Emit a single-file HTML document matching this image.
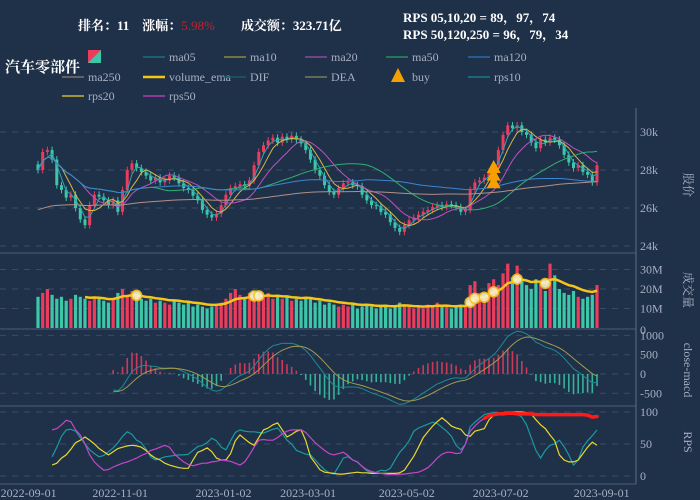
<!DOCTYPE html>
<html><head><meta charset="utf-8">
<style>
html,body{margin:0;padding:0;background:#1f3049;}
#wrap{position:relative;width:700px;height:500px;overflow:hidden;background:#1f3049;font-family:"Liberation Serif","Noto Serif CJK SC",serif;}
svg text{font-family:"Liberation Serif","Noto Serif CJK SC",serif;}
</style></head>
<body>
<div id="wrap">
<svg id="chart" width="700" height="500" xmlns="http://www.w3.org/2000/svg">
  <g>
    <text x="78" y="30" fill="#ffffff" font-size="13" font-weight="bold">排名：11　涨幅：<tspan fill="#c0242c" font-weight="normal">5.98%</tspan>　　成交额：323.71亿</text>
    <text x="403" y="22" fill="#ffffff" font-size="13" font-weight="bold">RPS 05,10,20 = 89，97，74</text>
    <text x="403" y="39" fill="#ffffff" font-size="13" font-weight="bold">RPS 50,120,250 = 96，79，34</text>
    <text x="5" y="72" fill="#ffffff" font-size="15" font-weight="bold" font-family="Liberation Sans, Noto Sans CJK SC, sans-serif">汽车零部件</text>
  </g>
  <g id="legend"></g>
  <g id="grid"></g>
  <g id="price"></g>
  <g id="volume"></g>
  <g id="macd"></g>
  <g id="rps"></g>
  <g id="axes"></g>
</svg>
</div>
<script>
const closes=[28000,28950,29050,28550,27200,26950,26550,26700,26000,25400,25100,26150,26700,26600,26400,26150,26400,25800,26950,28000,28350,28100,27900,27700,27450,27600,27350,27450,27700,27600,27300,27050,26950,26650,26400,25900,25650,25500,25700,26150,26700,27050,27150,27250,27150,27450,28250,28950,29300,29550,29700,29450,29750,29600,29800,29600,29400,29050,28550,28000,27700,27200,26850,26700,27050,27300,27350,27200,27150,26700,26400,26150,26100,25800,25650,25250,24950,24750,25100,25350,25500,25650,25800,25900,26050,26150,26050,26200,26150,26050,25800,25900,26950,27350,27450,27600,27900,28250,29050,29850,30350,30200,30350,30000,29850,29450,29150,29600,29450,29700,29600,29300,28800,28400,28100,28250,27900,27750,27350,28250];
const historyCloses=[25200,25400,25600,25900,26200,26400,26100,25800,25500,25300,25600,25900,26200,26400,26300,26000,25700,25500,25400,25600,25900,26100,26300,26200,25900,25700,25600,25800,26000,26200,26100,25900,25700,25600,25800,26000,26100,25900,25800,25700];
const volumes=[16,18,20,17,15,16,14,15,17,16,15,14,16,15,14,13,15,18,20,17,19,16,15,14,15,13,14,13,12,14,13,12,13,11,12,11,10,11,12,13,15,18,20,17,16,18,19,17,16,18,15,17,15,16,14,15,14,16,15,13,14,12,13,12,11,12,11,12,10,11,12,11,10,11,12,10,11,13,12,11,10,11,10,12,11,13,11,12,10,11,12,11,22,24,18,16,23,25,22,28,33,26,32,24,22,20,25,23,19,33,27,20,18,17,19,16,15,16,17,22];
const rps10=[null,null,null,30,45,62,72,73,70,60,50,41,35,30,32,38,44,52,62,69,65,56,52,42,30,25,27,30,31,32,33,33,34,40,46,48,52,59,55,45,41,55,68,72,70,69,69,68,67,70,73,75,66,56,50,40,37,34,33,25,17,10,5,3,15,28,30,25,22,15,8,5,6,9,8,12,25,37,45,55,70,75,78,81,84,82,76,70,62,48,41,50,77,84,90,96,98,99,99,98,98,99,97,92,80,60,40,28,40,48,50,56,46,33,17,25,45,55,63,72];
const rps20=[null,null,null,17,20,28,33,42,52,56,61,56,50,43,38,33,38,43,45,47,48,47,45,40,33,28,25,20,17,15,13,12,12,25,37,40,44,38,28,25,25,35,55,64,58,52,48,60,72,75,80,83,72,61,65,70,72,55,30,20,10,6,5,4,3,3,4,5,6,5,5,4,4,4,4,4,4,5,9,20,31,45,60,69,78,85,91,85,78,75,73,64,62,70,72,74,88,95,98,99,100,100,100,100,99,97,88,80,74,64,55,33,25,22,22,25,35,45,53,48];
const rps50=[null,null,null,72,74,80,87,85,72,64,50,33,22,15,9,10,14,17,20,22,25,28,32,35,40,42,45,48,45,35,28,22,18,16,18,20,20,22,23,25,24,23,20,17,22,33,45,56,57,56,56,60,66,70,72,72,72,68,60,52,46,40,35,33,35,37,32,25,22,15,10,7,5,4,3,2,2,3,3,4,5,6,9,13,20,28,34,37,37,35,36,50,70,78,85,90,94,96,97,97,98,98,97,97,97,97,96,96,96,96,96,96,96,96,96,96,96,95,92,93];
const buyIdx=[97,97,97];
const buyPrice=[28050,27650,27250];
const glowIdx=[21,46,47,92,93,95,97,102,108];
const priceTicks=[24000,26000,28000,30000];
const priceTickLabels=["24k","26k","28k","30k"];
const volTicks=[0,10,20,30];
const volTickLabels=["0","10M","20M","30M"];
const macdTicks=[-500,0,500,1000];
const rpsTicks=[0,50,100];
const dateLabels=["2022-09-01","2022-11-01","2023-01-02","2023-03-01","2023-05-02","2023-07-02","2023-09-01"];
const datePos=[-2,17.5,39.5,57.5,78.5,98.5,120];

const NS="http://www.w3.org/2000/svg";
const X0=38, X1=597;
function xs(i){return X0+i*(X1-X0)/(closes.length-1);}
function yPrice(p){return 170-(p-28000)*0.019;}
function yVol(v){return 328-v*1.95;}
function yMacd(m){return 374-m*0.0386;}
function yRps(r){return 476-r*0.64;}
function el(tag,attrs,parent){const e=document.createElementNS(NS,tag);for(const k in attrs)e.setAttribute(k,attrs[k]);parent.appendChild(e);return e;}
const UP="#ec3c5c", DN="#3cc8a8";

const grid=document.getElementById('grid');
function gline(y){const l=el('line',{x1:0,x2:636,y1:y,y2:y,stroke:'#3b4b66','stroke-dasharray':'6,6','stroke-width':1},grid);

}
priceTicks.forEach(t=>gline(yPrice(t)));
volTicks.slice(1).forEach(t=>gline(yVol(t)));
macdTicks.forEach(t=>gline(yMacd(t)));
rpsTicks.forEach(t=>gline(yRps(t)));
[253,329,406,484].forEach(y=>{const l=el('line',{x1:0,x2:636,y1:y,y2:y,stroke:'#4a5b78','stroke-width':1},grid);

});

function ma(arr,n){return arr.map((v,i)=>{const s=Math.max(0,i-n+1);let t=0;for(let j=s;j<=i;j++)t+=arr[j];return t/(i-s+1);});}
function ema(arr,n){const k=2/(n+1);let out=[],prev=arr[0];arr.forEach((v,i)=>{prev=i?v*k+prev*(1-k):v;out.push(prev);});return out;}
function pathFrom(vals,xf,yf,start){let d='';vals.forEach((v,i)=>{if(i<(start||0)||v==null)return;d+=(d?'L':'M')+xf(i).toFixed(1)+','+yf(v).toFixed(1);});return d;}

const price=document.getElementById('price');
closes.forEach((c,i)=>{
  const o=i?closes[i-1]:c+300;
  const up=c>=o;
  const hi=Math.max(o,c)+180, lo=Math.min(o,c)-180;
  const w=el('line',{x1:xs(i),x2:xs(i),y1:yPrice(hi),y2:yPrice(lo),stroke:up?UP:DN,'stroke-width':1},price);
  
  
  const top=yPrice(Math.max(o,c)), bot=yPrice(Math.min(o,c));
  const r=el('rect',{x:xs(i)-1.5,y:top,width:3,height:Math.max(1,bot-top),fill:up?UP:DN},price);
  
  
});
const fullSeries=historyCloses.concat(closes);
const ma250=ma(fullSeries,125).slice(historyCloses.length);
const maDefs=[[3,'#2aa4b0','ma05'],[5,'#d6b848','ma10'],[10,'#c050c0','ma20'],[25,'#30b070','ma50'],[60,'#3a86d0','ma120']];
maDefs.forEach(([n,col,name])=>{
  const p=el('path',{d:pathFrom(ma(closes,n),xs,yPrice),fill:'none',stroke:col,'stroke-width':1},price);
  
  
});
const p250=el('path',{d:pathFrom(ma250,xs,yPrice),fill:'none',stroke:'#b09088','stroke-width':1},price);


buyIdx.forEach((b,k)=>{
  const x=xs(b), y=yPrice(buyPrice[k]);
  const t=el('polygon',{points:`${x},${y-9} ${x-7},${y+4} ${x+7},${y+4}`,fill:'#f5a000'},price);
  
  
});

const vol=document.getElementById('volume');
volumes.forEach((v,i)=>{
  const o=i?closes[i-1]:closes[i]+300;
  const up=closes[i]>=o;
  const r=el('rect',{x:xs(i)-1.6,y:yVol(v),width:3.2,height:328-yVol(v),fill:up?UP:DN},vol);
  
  
});
const vema=ema(volumes,10);
const vp=el('path',{d:pathFrom(vema,xs,yVol,10),fill:'none',stroke:'#f5c518','stroke-width':2.5},vol);


glowIdx.forEach(g=>{
  const c=el('circle',{cx:xs(g),cy:yVol(vema[g]),r:5,fill:'#f8f0c8',stroke:'#f5c518','stroke-width':1.5,opacity:0.9},vol);
  
  
});

const macdG=document.getElementById('macd');
const e6=ema(closes,9), e13=ema(closes,20);
const dif=e6.map((v,i)=>v-e13[i]);
const dea=ema(dif,6);
const START=16;
dif.forEach((d,i)=>{
  if(i<START)return;
  const h=2*(d-dea[i]);
  const y0=yMacd(0), y1=yMacd(h);
  const b=el('rect',{x:xs(i)-0.8,y:Math.min(y0,y1),width:1.6,height:Math.max(0.5,Math.abs(y1-y0)),fill:h>=0?UP:DN,opacity:0.85},macdG);
  
  
});
const dl=el('path',{d:pathFrom(dif,xs,yMacd,START),fill:'none',stroke:'#1d8a96','stroke-width':1},macdG);


const de=el('path',{d:pathFrom(dea,xs,yMacd,START),fill:'none',stroke:'#a09a50','stroke-width':1},macdG);



const rpsG=document.getElementById('rps');
[[rps10,'#1a9aa0','rps10'],[rps20,'#e8d830','rps20'],[rps50,'#c846c8','rps50']].forEach(([a,c,n])=>{
  const p=el('path',{d:pathFrom(a,xs,yRps),fill:'none',stroke:c,'stroke-width':1.2},rpsG);
  
  
});
let rd='';rps50.forEach((v,i)=>{if(v!=null&&v>=90){rd+=(rd&&rps50[i-1]>=90?'L':'M')+xs(i).toFixed(1)+','+yRps(v).toFixed(1);}});
const rl=el('path',{d:rd,fill:'none',stroke:'#ff1a1a','stroke-width':3.5,'stroke-linecap':'round'},rpsG);



const ax=document.getElementById('axes');
const av=el('line',{x1:636,x2:636,y1:108,y2:484,stroke:'#5a6b88','stroke-width':1},ax);


function alabel(y,txt,name){const t=el('text',{x:640,y:y+4,fill:'#a8b0c0','font-size':12},ax);t.textContent=txt;

}
priceTicks.forEach((t,k)=>alabel(yPrice(t),priceTickLabels[k],'price-tick-label'));
volTicks.forEach((t,k)=>alabel(yVol(t)+ (t===0?2:0),volTickLabels[k],'volume-tick-label'));
macdTicks.forEach(t=>alabel(yMacd(t),String(t),'macd-tick-label'));
rpsTicks.forEach(t=>alabel(yRps(t),String(t),'rps-tick-label'));
function vtitle(y,txt,name){const t=el('text',{x:0,y:0,fill:'#a8b0c0','font-size':12,'text-anchor':'middle',transform:`translate(684,${y}) rotate(90)`},ax);t.textContent=txt;

}
vtitle(185,'股价','price-axis-title');vtitle(290,'成交量','volume-axis-title');vtitle(370,'close-macd','macd-axis-title');vtitle(442,'RPS','rps-axis-title');
dateLabels.forEach((d,k)=>{const t=el('text',{x:xs(datePos[k]),y:497,fill:'#a8b0c0','font-size':12,'text-anchor':'middle'},ax);t.textContent=d;

});

const lg=document.getElementById('legend');
const legendItems=[
 [143,57,'line','#1d6f7a','ma05'],[224,57,'line','#8a8a3a','ma10'],[305,57,'line','#8a4a9a','ma20'],[386,57,'line','#2a8a5a','ma50'],[468,57,'line','#2a6aaa','ma120'],
 [62,77,'line','#7a7070','ma250'],[143,77,'thick','#f5c518','volume_ema'],[224,77,'line','#1a5a6a','DIF'],[305,77,'line','#7a7a50','DEA'],[386,77,'tri','#f5a000','buy'],[468,77,'line','#1a7a86','rps10'],
 [62,96,'line','#c8b830','rps20'],[143,96,'line','#b040b0','rps50']];
const sq=el('rect',{x:88,y:50,width:13,height:13,fill:'#3cc8a8'},lg);


const sq2=el('polygon',{points:'88,50 101,50 88,63',fill:'#ec3c5c'},lg);


legendItems.forEach(([x,y,type,col,name])=>{
  let m;
  if(type==='tri'){m=el('polygon',{points:`${x+12},${y-9} ${x+5},${y+5} ${x+19},${y+5}`,fill:col},lg);}
  else{m=el('line',{x1:x,x2:x+22,y1:y,y2:y,stroke:col,'stroke-width':type==='thick'?2.5:1.5},lg);}
  
  
  const t=el('text',{x:x+26,y:y+4,fill:'#a8b0c0','font-size':12},lg);t.textContent=name;
  
  
});
</script>
</body></html>
